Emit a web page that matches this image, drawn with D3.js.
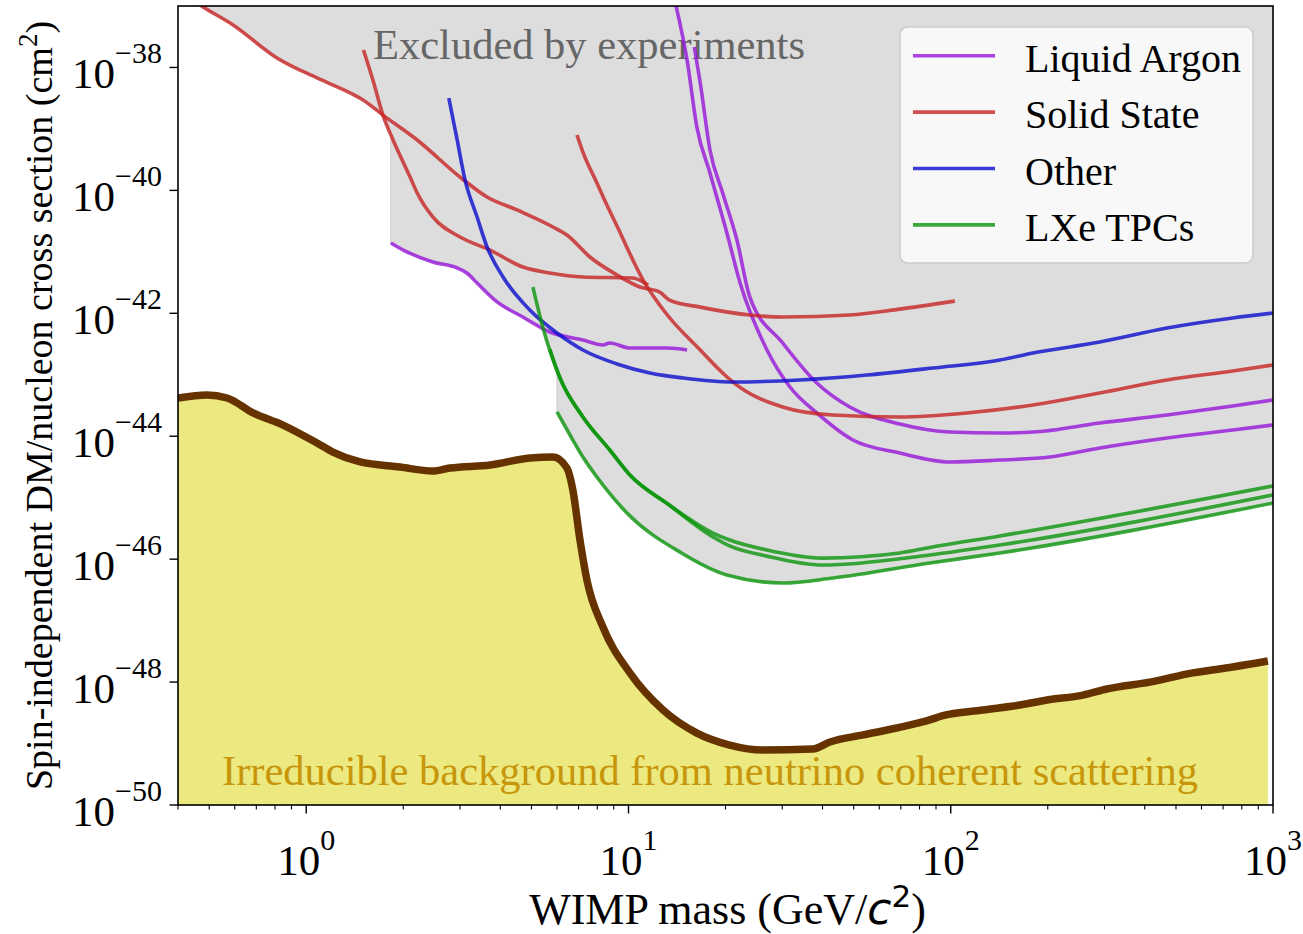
<!DOCTYPE html>
<html>
<head>
<meta charset="utf-8">
<script src="https://cdn.jsdelivr.net/npm/d3@7"></script>
<style>
  body { margin: 0; background: #fff; }
  svg { display: block; }
  text { font-family: "Liberation Serif", "Times New Roman", serif; }
</style>
</head>
<body>
<svg id="chart" width="1303" height="934"></svg>
<script>
// ---- Data: WIMP mass (GeV/c^2) vs spin-independent cross section (cm^2) ----
const massTicks = [1, 10, 100, 1000];
const sigmaTicks = [1e-38, 1e-40, 1e-42, 1e-44, 1e-46, 1e-48, 1e-50];
const legendLabels = ["Liquid Argon", "Solid State", "Other", "LXe TPCs"];

const liquidArgonCurves = [
  [[1.83, 1.39e-41], [2.00, 1.07e-41], [2.47, 6.84e-42], [2.94, 5.46e-42], [3.15, 4.53e-42],
   [3.39, 3.11e-42], [3.91, 1.53e-42], [4.70, 8.71e-43], [5.70, 4.97e-43], [7.22, 3.68e-43],
   [8.33, 3.05e-43], [8.75, 3.29e-43], [10.1, 2.72e-43], [13.2, 2.72e-43], [15.2, 2.53e-43]],
  [[14.0, 1.08e-37], [15.2, 1.32e-38], [16.3, 1.07e-39], [17.9, 1.92e-40], [20.2, 2.03e-41],
   [22.2, 3.11e-42], [26.9, 2.53e-43], [31.7, 6.32e-44], [38.4, 2.39e-44],
   [49.7, 8.67e-45], [69.5, 5.33e-45], [99.4, 3.81e-45], [142, 4.10e-45], [203, 4.59e-45],
   [290, 6.43e-45], [469, 9.35e-45], [750, 1.26e-44], [1000, 1.52e-44]],
  [[16.0, 2.15e-38], [16.7, 5.58e-39], [17.9, 4.54e-40], [19.6, 9.06e-41], [21.7, 1.56e-41],
   [23.8, 1.84e-42], [30.1, 3.29e-43], [38.4, 7.35e-44], [48.6, 2.99e-44], [69.5, 1.58e-44],
   [99.4, 1.17e-44], [142, 1.13e-44], [180, 1.17e-44], [290, 1.64e-44], [469, 2.21e-44],
   [750, 3.10e-44], [1000, 3.88e-44]]
];

const solidStateCurves = [
  [[0.436, 1.35e-37], [0.468, 1.04e-37], [0.593, 4.91e-38], [0.811, 1.43e-38], [1.08, 6.75e-39],
   [1.37, 3.84e-39], [1.50, 2.96e-39], [1.73, 1.68e-39], [2.21, 6.61e-40], [3.00, 1.65e-40],
   [3.64, 7.80e-41], [4.51, 4.80e-41], [5.83, 2.54e-41], [6.44, 1.88e-41], [7.59, 8.24e-42],
   [9.21, 4.20e-42], [10.85, 2.68e-42], [12.5, 2.22e-42], [13.4, 1.64e-42], [16.7, 1.26e-42],
   [23.8, 9.38e-43], [30.1, 8.71e-43], [48.6, 9.38e-43], [69.5, 1.17e-42], [103, 1.58e-42]],
  [[1.505, 1.92e-38], [1.61, 6.25e-39], [1.73, 1.68e-39], [1.86, 6.61e-40], [2.10, 1.65e-40],
   [2.21, 9.06e-41], [2.47, 3.69e-41], [3.00, 1.74e-41], [3.72, 1.07e-41], [4.70, 5.66e-42],
   [5.70, 4.53e-42], [7.22, 3.90e-42], [10.3, 3.75e-42], [11.5, 2.88e-42]],
  [[6.92, 7.96e-40], [7.22, 4.21e-40], [7.98, 1.32e-40], [8.57, 5.78e-41], [9.21, 2.63e-41],
   [11.1, 3.48e-42], [13.2, 9.38e-43], [16.7, 2.53e-43], [19.6, 1.07e-43], [21.1, 7.62e-44],
   [30.1, 2.99e-44], [43.1, 2.21e-44], [69.5, 2.06e-44], [112, 2.39e-44], [180, 3.22e-44],
   [290, 5.05e-44], [469, 8.22e-44], [750, 1.15e-43], [1000, 1.44e-43]]
];

const otherCurves = [
  [[2.77, 3.18e-39], [2.94, 6.61e-40], [3.11, 1.48e-40], [3.39, 3.69e-41], [3.64, 1.20e-41],
   [4.08, 3.90e-42], [4.94, 1.13e-42], [6.00, 4.78e-43], [7.22, 2.53e-43], [9.21, 1.50e-43],
   [11.66, 1.07e-43], [14.8, 8.85e-44], [21.1, 7.62e-44], [34.0, 8.22e-44], [54.9, 9.91e-44],
   [88.0, 1.29e-43], [142, 1.74e-43], [180, 2.26e-43], [290, 3.41e-43], [469, 5.77e-43],
   [750, 8.40e-43], [1000, 1.01e-42]]
];

const lxeCurves = [
  [[5.05, 2.68e-42], [5.43, 5.77e-43], [6.13, 8.85e-44], [7.22, 2.06e-44], [8.75, 5.97e-45],
   [10.1, 2.34e-45], [13.25, 7.88e-46], [18.3, 2.66e-46], [20.6, 2.05e-46], [26.9, 1.41e-46],
   [40.1, 1.04e-46], [69.5, 1.26e-46], [86.1, 1.55e-46], [142, 2.38e-46], [1000, 1.55e-45]],
  [[5.70, 2.62e-43], [6.13, 8.85e-44], [7.22, 2.06e-44], [8.75, 5.97e-45], [10.1, 2.34e-45],
   [13.25, 7.88e-46], [18.3, 2.29e-46], [20.6, 1.64e-46], [26.9, 1.12e-46], [40.1, 8.02e-47],
   [86.1, 1.17e-46], [142, 1.70e-46], [1000, 1.11e-45]],
  [[6.00, 2.48e-44], [6.72, 8.67e-45], [7.22, 4.59e-45], [7.98, 2.17e-45], [9.89, 5.64e-46],
   [14.6, 1.26e-46], [20.2, 5.52e-47], [30.1, 4.09e-47], [43.1, 4.93e-47], [86.1, 8.65e-47],
   [142, 1.26e-46], [1000, 8.18e-46]]
];

const neutrinoFloor = [
  [0.40, 4.19e-44], [0.492, 4.69e-44], [0.568, 4.19e-44], [0.684, 2.39e-44], [0.847, 1.52e-44],
  [1.08, 7.76e-45], [1.21, 5.53e-45], [1.47, 3.81e-45], [1.95, 3.16e-45], [2.47, 2.72e-45],
  [2.79, 3.04e-45], [3.72, 3.40e-45], [4.95, 4.43e-45], [5.83, 4.59e-45], [6.44, 3.04e-45],
  [6.72, 1.33e-45], [7.07, 2.05e-46], [7.43, 4.58e-47], [8.33, 7.87e-48], [10.1, 1.41e-48],
  [12.8, 3.51e-49], [16.3, 1.48e-49], [20.6, 9.46e-50], [26.1, 7.85e-50], [37.3, 8.15e-50],
  [42.2, 1.06e-49], [53.4, 1.38e-49], [68.0, 1.79e-49], [86.1, 2.42e-49], [93.9, 2.81e-49],
  [126, 3.51e-49], [164, 4.23e-49], [199, 5.10e-49], [257, 6.15e-49], [305, 7.71e-49],
  [415, 1.00e-48], [564, 1.41e-48], [750, 1.76e-48], [964, 2.20e-48]
];

// ---- Layout ----
const plot = { left: 178, right: 1273, top: 6, bottom: 805 };
const svg = d3.select("#chart");

const x = d3.scaleLog().domain([0.4, 1000]).range([plot.left, plot.right]);
const y = d3.scaleLog().domain([1e-50, 1e-37]).range([plot.bottom, plot.top]);

const groupStyles = [
  { curves: liquidArgonCurves, color: "#9715db" },
  { curves: solidStateCurves, color: "#c72424" },
  { curves: otherCurves, color: "#0b0bcd" },
  { curves: lxeCurves, color: "#0b950b" }
];

svg.append("defs").append("clipPath").attr("id", "plotClip")
  .append("rect")
  .attr("x", plot.left).attr("y", plot.top)
  .attr("width", plot.right - plot.left).attr("height", plot.bottom - plot.top);

const body = svg.append("g").attr("clip-path", "url(#plotClip)");
const excludedLayer = body.append("g");
const floorFillLayer = body.append("g");
const textLayer = body.append("g");
const lineLayer = body.append("g");
const floorLineLayer = body.append("g");

const smoothLine = d3.line().curve(d3.curveMonotoneX).x(d => x(d[0])).y(d => y(d[1]));

// ---- Experimental limit curves ----
const limitPaths = [];
groupStyles.forEach(g => {
  lineLayer.append("g").selectAll("path")
    .data(g.curves)
    .join("path")
    .attr("d", smoothLine)
    .attr("fill", "none")
    .attr("stroke", g.color)
    .attr("stroke-opacity", 0.8)
    .attr("stroke-width", 3.6)
    .attr("stroke-linejoin", "round")
    .each(function () { limitPaths.push(this); });
});

// ---- Excluded region: everything above the lowest drawn limit at each mass ----
function samplePath(node) {
  const len = node.getTotalLength();
  const pts = [];
  for (let s = 0; s < len; s += 0.5) {
    const p = node.getPointAtLength(s);
    pts.push([p.x, p.y]);
  }
  const end = node.getPointAtLength(len);
  pts.push([end.x, end.y]);
  pts.sort((a, b) => a[0] - b[0]);
  return pts;
}
const sampled = limitPaths.map(samplePath);
const bisectX = d3.bisector(p => p[0]).left;
function yOnCurve(pts, px) {
  if (px < pts[0][0] || px > pts[pts.length - 1][0]) return null;
  const i = bisectX(pts, px);
  if (i === 0) return pts[0][1];
  const a = pts[i - 1], b = pts[i];
  const t = b[0] === a[0] ? 1 : (px - a[0]) / (b[0] - a[0]);
  return a[1] + t * (b[1] - a[1]);
}
const startX = d3.min(sampled, s => s[0][0]);
let columns = d3.range(startX, plot.right, 0.5);
columns.push(plot.right);
sampled.forEach(s => { columns.push(s[0][0] - 0.01, s[0][0]); });
columns = columns.filter(c => c >= startX && c <= plot.right).sort((a, b) => a - b);
const envelope = [];
columns.forEach(cx => {
  let lowest = null;
  sampled.forEach(s => {
    const v = yOnCurve(s, cx);
    if (v !== null && (lowest === null || v > lowest)) lowest = v;
  });
  if (lowest !== null) envelope.push([cx, Math.max(lowest, plot.top)]);
});

excludedLayer.append("path")
  .datum(envelope)
  .attr("d", d3.area().x(d => d[0]).y0(plot.top).y1(d => d[1]))
  .attr("fill", "#dddddd")
  .attr("stroke", "#cbcbcb")
  .attr("stroke-width", 1);

// ---- Neutrino floor ----
floorFillLayer.append("path")
  .datum(neutrinoFloor)
  .attr("d", d3.area().curve(d3.curveMonotoneX).x(d => x(d[0])).y0(y(1e-50)).y1(d => y(d[1])))
  .attr("fill", "#ebe97f");

floorLineLayer.append("path")
  .datum(neutrinoFloor)
  .attr("d", smoothLine)
  .attr("fill", "none")
  .attr("stroke", "#663300")
  .attr("stroke-width", 7.5)
  .attr("stroke-linejoin", "round");

// ---- Region annotations ----
textLayer.append("text")
  .attr("x", 373).attr("y", 59)
  .attr("font-size", 42.5)
  .attr("fill", "#666666")
  .text("Excluded by experiments");

textLayer.append("text")
  .attr("x", 222).attr("y", 785)
  .attr("font-size", 42.5)
  .attr("fill", "#c8960a")
  .text("Irreducible background from neutrino coherent scattering");

// ---- Axes ----
const xAxis = svg.append("g").attr("transform", `translate(0,${plot.bottom})`);
const xMinor = [];
[0.1, 1, 10, 100].forEach(d => {
  for (let k = 2; k <= 9; k++) { const v = k * d; if (v >= 0.4 && v < 1000) xMinor.push(v); }
});
xAxis.selectAll("line.minor").data(xMinor).join("line")
  .attr("class", "minor")
  .attr("x1", d => x(d)).attr("x2", d => x(d))
  .attr("y1", 0).attr("y2", 4.5)
  .attr("stroke", "#000").attr("stroke-width", 1.1);
xAxis.selectAll("line.major").data(massTicks).join("line")
  .attr("class", "major")
  .attr("x1", d => x(d)).attr("x2", d => x(d))
  .attr("y1", 0).attr("y2", 8.5)
  .attr("stroke", "#000").attr("stroke-width", 1.4);
xAxis.selectAll("text").data(massTicks).join("text")
  .attr("x", d => x(d)).attr("y", 70)
  .attr("text-anchor", "middle")
  .attr("font-size", 43)
  .each(function (d) {
    const t = d3.select(this);
    t.append("tspan").text("10");
    t.append("tspan").attr("dy", -25).attr("font-size", 30).text(String(Math.round(Math.log10(d))));
  });

const yAxis = svg.append("g").attr("transform", `translate(${plot.left},0)`);
yAxis.selectAll("line").data(sigmaTicks).join("line")
  .attr("x1", -8.5).attr("x2", 0)
  .attr("y1", d => y(d)).attr("y2", d => y(d))
  .attr("stroke", "#000").attr("stroke-width", 1.4);
yAxis.selectAll("text").data(sigmaTicks).join("text")
  .attr("x", -16).attr("y", d => y(d) + 20.5)
  .attr("text-anchor", "end")
  .attr("font-size", 43)
  .each(function (d) {
    const t = d3.select(this);
    t.append("tspan").text("10");
    t.append("tspan").attr("dy", -25).attr("font-size", 30)
      .text("\u2212" + String(Math.abs(Math.round(Math.log10(d)))));
  });

// Frame
svg.append("rect")
  .attr("x", plot.left).attr("y", plot.top)
  .attr("width", plot.right - plot.left).attr("height", plot.bottom - plot.top)
  .attr("fill", "none").attr("stroke", "#000").attr("stroke-width", 1.6);

// Axis titles
const xLabel = svg.append("text")
  .attr("x", (plot.left + plot.right) / 2 + 2).attr("y", 924)
  .attr("text-anchor", "middle")
  .attr("font-size", 44);
xLabel.append("tspan").text("WIMP mass (GeV/");
xLabel.append("tspan").attr("font-family", "DejaVu Sans").attr("font-style", "italic").text("c");
xLabel.append("tspan").attr("font-family", "DejaVu Sans").attr("font-size", 31).attr("dy", -17).text("2");
xLabel.append("tspan").attr("dy", 17).text(")");

const yLabel = svg.append("text")
  .attr("transform", `translate(52,${(plot.top + plot.bottom) / 2}) rotate(-90)`)
  .attr("text-anchor", "middle")
  .attr("font-size", 38);
yLabel.append("tspan").text("Spin-independent DM/nucleon cross section (cm");
yLabel.append("tspan").attr("font-size", 27).attr("dy", -15).text("2");
yLabel.append("tspan").attr("dy", 15).text(")");

// ---- Legend ----
const legend = svg.append("g");
legend.append("rect")
  .attr("x", 900).attr("y", 27).attr("width", 353).attr("height", 236)
  .attr("rx", 8).attr("ry", 8)
  .attr("fill", "#ffffff").attr("fill-opacity", 0.8)
  .attr("stroke", "#cccccc").attr("stroke-width", 1.5);
const legendRows = legend.selectAll("g.row")
  .data(legendLabels.map((label, i) => ({ label, color: groupStyles[i].color })))
  .join("g")
  .attr("class", "row")
  .attr("transform", (d, i) => `translate(0,${55.7 + i * 56.4})`);
legendRows.append("line")
  .attr("x1", 913).attr("x2", 995).attr("y1", 0).attr("y2", 0)
  .attr("stroke", d => d.color).attr("stroke-opacity", 0.8).attr("stroke-width", 3.6);
legendRows.append("text")
  .attr("x", 1025).attr("y", 16)
  .attr("font-size", 40)
  .text(d => d.label);
</script>
</body>
</html>
